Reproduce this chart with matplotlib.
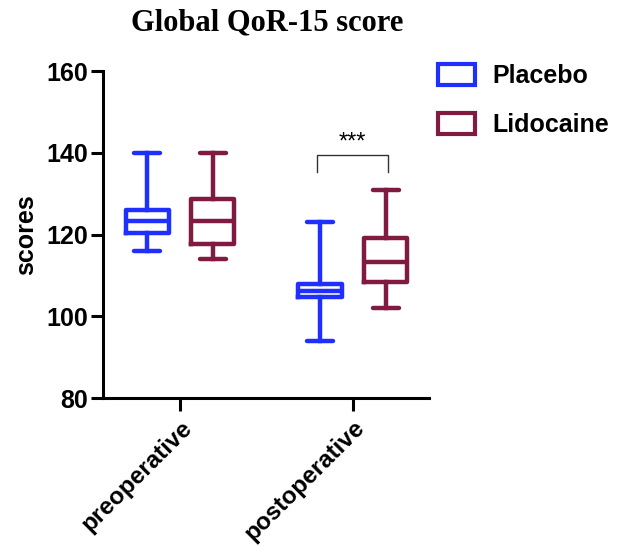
import matplotlib.pyplot as plt
from matplotlib.patches import Patch

# Summary statistics for each box (whisker low, Q1, median, Q3, whisker high)
timepoints = ["preoperative", "postoperative"]
groups = ["Placebo", "Lidocaine"]
colors = ["#1f2fff", "#801a40"]

whislo = {"Placebo": [116, 94], "Lidocaine": [114, 102]}
q1 = {"Placebo": [120.4, 104.6], "Lidocaine": [117.6, 108.5]}
med = {"Placebo": [123.4, 106.2], "Lidocaine": [123.4, 113.2]}
q3 = {"Placebo": [126, 108], "Lidocaine": [128.8, 119.1]}
whishi = {"Placebo": [140, 123], "Lidocaine": [140, 131]}

plt.rcParams['font.family'] = ['Liberation Sans', 'DejaVu Sans']
plt.rcParams['font.weight'] = 'bold'

fig = plt.figure(figsize=(6.18, 5.45), dpi=100)
ax = fig.add_axes([0.1667, 0.2697, 0.5275, 0.6])

offsets = [-0.19, 0.19]
for g, (name, col) in enumerate(zip(groups, colors)):
    stats = []
    for i in range(len(timepoints)):
        stats.append({"whislo": whislo[name][i], "q1": q1[name][i], "med": med[name][i],
                      "q3": q3[name][i], "whishi": whishi[name][i], "fliers": []})
    pos = [i + offsets[g] for i in range(len(timepoints))]
    lw = 3.2
    ax.bxp(stats, positions=pos, widths=0.25, capwidths=0.15, showfliers=False,
           boxprops=dict(color=col, linewidth=lw),
           medianprops=dict(color=col, linewidth=lw),
           whiskerprops=dict(color=col, linewidth=lw),
           capprops=dict(color=col, linewidth=lw, solid_capstyle='round'),
           manage_ticks=False)

# significance bracket for postoperative comparison
bx1, bx2, by, bh = 0.79, 1.2, 135.3, 4.1
ax.plot([bx1, bx1, bx2, bx2], [by, by + bh, by + bh, by], color="#333333", linewidth=1)
ax.text((bx1 + bx2) / 2, 142.6, "***", ha="center", va="center",
        fontsize=17, fontweight="normal")

ax.set_xlim(-0.445, 1.44)
ax.set_ylim(80, 160)
ax.set_yticks([80, 100, 120, 140, 160])
ax.set_xticks(range(len(timepoints)))
ax.set_xticklabels(timepoints, rotation=45, ha="right", rotation_mode="anchor",
                   fontsize=17.5, fontweight="bold")
ax.tick_params(axis="y", labelsize=18, width=2.2, length=9, pad=2)
ax.tick_params(axis="x", width=2.2, length=9, pad=4)
for lab in ax.get_yticklabels():
    lab.set_fontweight("bold")
for s in ["top", "right"]:
    ax.spines[s].set_visible(False)
for s in ["left", "bottom"]:
    ax.spines[s].set_linewidth(2.2)

ax.set_ylabel("scores", fontsize=18, fontweight="bold", labelpad=6)

fig.text(0.433, 0.957, "Global QoR-15 score", ha="center", va="center",
         fontsize=22, fontweight="bold", family="Liberation Serif")

handles = [Patch(facecolor="white", edgecolor=c, linewidth=3) for c in colors]
fig.legend(handles, groups, loc="upper left", bbox_to_anchor=(0.688, 0.905),
           frameon=False, handlelength=1.5, handleheight=0.9,
           labelspacing=1.0, handletextpad=0.7, borderpad=0,
           prop={"weight": "bold", "size": 18})

fig.savefig("out.png", dpi=100)
